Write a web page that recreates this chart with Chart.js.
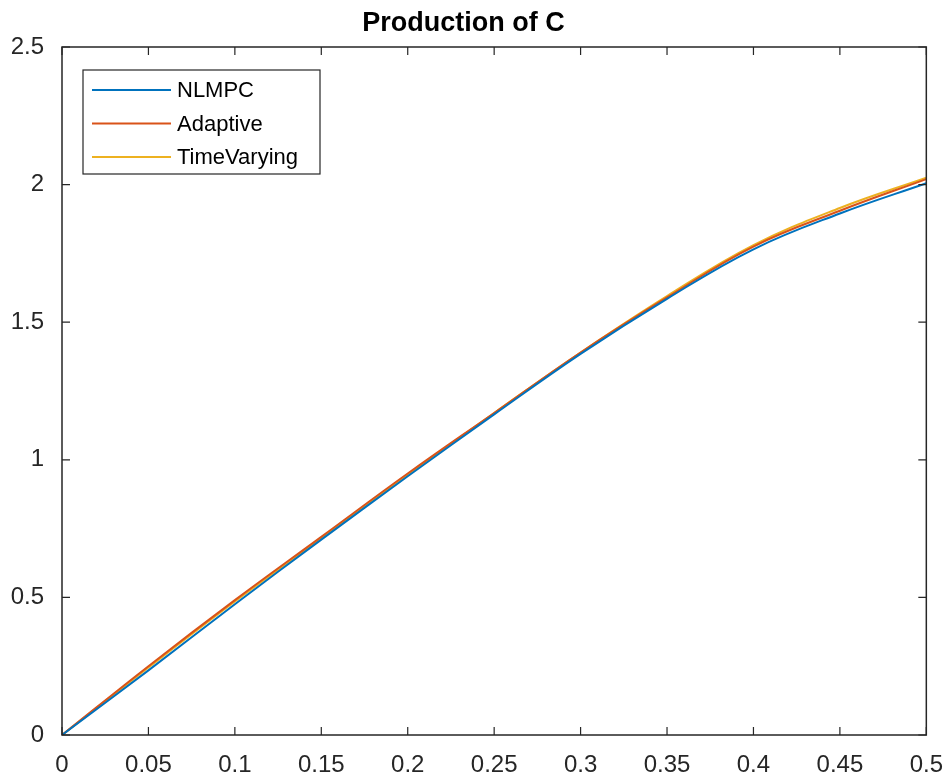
<!DOCTYPE html>
<html>
<head>
<meta charset="utf-8">
<script src="https://cdn.jsdelivr.net/npm/chart.js@4.4.1/dist/chart.umd.min.js"></script>
<style>
  html, body { margin: 0; padding: 0; background: #fff; }
  #wrap { width: 951px; height: 776px; }
</style>
</head>
<body>
<div id="wrap"><canvas id="grafico" width="951" height="776"></canvas></div>
<script>
// dados
const tempos = [0, 0.05, 0.1, 0.15, 0.2, 0.25, 0.3, 0.35, 0.4, 0.45, 0.5];
const nlmpc = [0, 0.235, 0.475, 0.71, 0.94, 1.165, 1.385, 1.585, 1.765, 1.895, 2.005];
const adaptive = [0, 0.25, 0.49, 0.72, 0.95, 1.17, 1.39, 1.59, 1.775, 1.905, 2.02];
const timeVarying = [0, 0.245, 0.485, 0.715, 0.945, 1.17, 1.39, 1.595, 1.78, 1.915, 2.025];
const nomes = ["NLMPC", "Adaptive", "TimeVarying"];
const cores = ["#0072BD", "#D95319", "#EDB120"];

const eixoCor = "#262626";
const fonte = "'Liberation Sans', Arial, Helvetica, sans-serif";

function pontos(ys) {
  return tempos.map((t, i) => ({ x: t, y: ys[i] }));
}

function fmt(v) {
  return String(Number(v.toFixed(3)));
}

// caixa + ticks para dentro, estilo matlab
const caixaPlugin = {
  id: "caixa",
  afterDraw(chart) {
    const { ctx, chartArea: a, scales } = chart;
    const len = 8;
    ctx.save();
    ctx.strokeStyle = eixoCor;
    ctx.lineWidth = 1.5;
    ctx.strokeRect(a.left, a.top, a.right - a.left, a.bottom - a.top);
    ctx.lineWidth = 1.2;
    ctx.beginPath();
    scales.x.ticks.forEach(t => {
      const px = scales.x.getPixelForValue(t.value);
      ctx.moveTo(px, a.bottom); ctx.lineTo(px, a.bottom - len);
      ctx.moveTo(px, a.top); ctx.lineTo(px, a.top + len);
    });
    scales.y.ticks.forEach(t => {
      const py = scales.y.getPixelForValue(t.value);
      ctx.moveTo(a.left, py); ctx.lineTo(a.left + len, py);
      ctx.moveTo(a.right, py); ctx.lineTo(a.right - len, py);
    });
    ctx.stroke();

    // legenda
    const lx = a.left + 21, ly = a.top + 23, lw = 237, lh = 104;
    ctx.fillStyle = "#fff";
    ctx.fillRect(lx, ly, lw, lh);
    ctx.strokeStyle = eixoCor;
    ctx.lineWidth = 1.2;
    ctx.strokeRect(lx, ly, lw, lh);
    ctx.font = "22px " + fonte;
    ctx.textBaseline = "middle";
    nomes.forEach((nome, i) => {
      const y = ly + 20 + i * 33.5;
      ctx.strokeStyle = cores[i];
      ctx.lineWidth = 2;
      ctx.beginPath();
      ctx.moveTo(lx + 9, y); ctx.lineTo(lx + 88, y);
      ctx.stroke();
      ctx.fillStyle = "#000";
      ctx.fillText(nome, lx + 94, y + 1);
    });
    ctx.restore();
  }
};

const ctx = document.getElementById("grafico").getContext("2d");
new Chart(ctx, {
  type: "line",
  data: {
    datasets: [nlmpc, adaptive, timeVarying].map((ys, i) => ({
      label: nomes[i],
      data: pontos(ys),
      borderColor: cores[i],
      backgroundColor: cores[i],
      borderWidth: 2,
      pointRadius: 0,
      tension: 0.4,
      fill: false
    }))
  },
  options: {
    responsive: false,
    animation: false,
    layout: { padding: { left: 0, right: 24, top: 0, bottom: 0 } },
    plugins: {
      legend: { display: false },
      tooltip: { enabled: false },
      title: {
        display: true,
        text: "Production of C",
        color: "#000",
        font: { family: fonte, size: 27, weight: "bold", lineHeight: 1.2 },
        padding: { top: 7, bottom: 7.6 }
      }
    },
    scales: {
      x: {
        type: "linear",
        min: 0,
        max: 0.5,
        grid: { display: false },
        border: { display: false },
        ticks: {
          stepSize: 0.05,
          color: eixoCor,
          padding: 8,
          maxRotation: 0,
          font: { family: fonte, size: 24 },
          callback: v => fmt(v)
        },
        afterFit(s) { s.height = 41; }
      },
      y: {
        min: 0,
        max: 2.5,
        grid: { display: false },
        border: { display: false },
        ticks: {
          stepSize: 0.5,
          color: eixoCor,
          padding: 10,
          font: { family: fonte, size: 24 },
          callback: v => fmt(v)
        },
        afterFit(s) { s.width = 62; }
      }
    }
  },
  plugins: [caixaPlugin]
});
</script>
</body>
</html>
